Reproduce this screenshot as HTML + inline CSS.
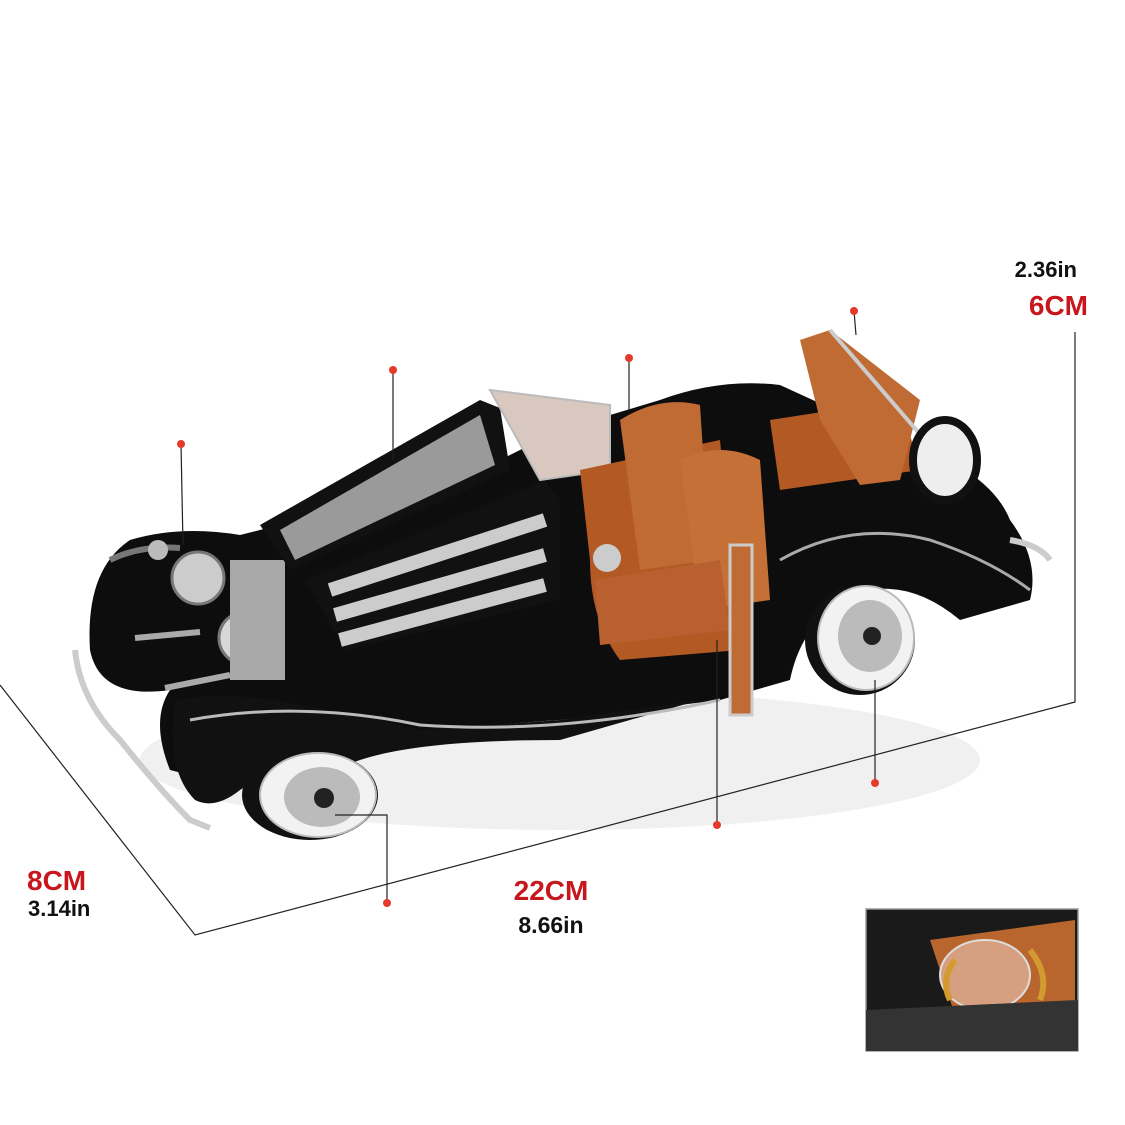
<!DOCTYPE html>
<html><head><meta charset="utf-8"><style>
html,body{margin:0;padding:0;background:#fff;}
svg{display:block}
text{font-family:"Liberation Sans",sans-serif;font-weight:bold}
</style></head><body>
<svg width="1125" height="1125" viewBox="0 0 1125 1125" xmlns="http://www.w3.org/2000/svg">
<rect width="1125" height="1125" fill="#fff"/>
<ellipse cx="560" cy="760" rx="420" ry="70" fill="#f0f0f0"/>
<g stroke="#222" stroke-width="1.2" fill="none">
<polyline points="0,685 195,935 1075,702 1075,332"/>
</g>
<path d="M660,400 Q720,378 780,385 L900,440 Q990,470 1010,520 Q1040,560 1030,600 L960,620 Q900,570 840,600 Q800,630 790,680 L720,700 L560,720 Q400,730 330,760 Q260,740 210,780 L170,770 Q150,720 170,690 Q100,700 90,650 Q85,570 130,540 Q180,525 240,535 L300,520 L480,470 L560,430 Z" fill="#0d0d0d"/>
<path d="M175,700 Q230,690 300,705 Q360,715 420,730 L560,720 L700,700 L560,740 Q420,740 360,760 Q330,770 310,790 Q270,770 240,790 Q215,810 195,800 Q165,770 175,700 Z" fill="#111"/>
<path d="M190,720 Q300,700 420,725 Q560,735 720,700" stroke="#bbb" stroke-width="3" fill="none"/>
<path d="M780,560 Q850,520 930,540 Q990,560 1030,590" stroke="#aaa" stroke-width="3" fill="none"/>
<path d="M110,560 Q140,545 180,548" stroke="#777" stroke-width="6" fill="none"/>
<path d="M75,650 Q80,700 120,740 Q160,790 190,820 L210,828" stroke="#ccc" stroke-width="6" fill="none"/>
<path d="M1010,540 Q1040,545 1050,560" stroke="#ccc" stroke-width="6" fill="none"/>
<circle cx="198" cy="578" r="26" fill="#ccc" stroke="#777" stroke-width="3"/>
<circle cx="245" cy="638" r="26" fill="#d8d8d8" stroke="#777" stroke-width="3"/>
<rect x="230" y="560" width="55" height="120" fill="#a8a8a8"/>
<circle cx="158" cy="550" r="10" fill="#bbb"/>
<line x1="135" y1="638" x2="200" y2="632" stroke="#aaa" stroke-width="6"/>
<line x1="165" y1="688" x2="230" y2="675" stroke="#aaa" stroke-width="6"/>
<path d="M260,525 L480,400 L500,408 L510,470 L290,570 Z" fill="#111"/>
<path d="M280,530 L480,415 L495,465 L295,560 Z" fill="#9a9a9a"/>
<path d="M305,580 L545,480 L560,500 L560,600 L345,650 Z" fill="#111"/>
<g stroke="#ccc" stroke-width="14">
<line x1="330" y1="590" x2="545" y2="520"/>
<line x1="335" y1="615" x2="545" y2="555"/>
<line x1="340" y1="640" x2="545" y2="585"/>
</g>
<path d="M490,390 L610,405 L610,470 L540,480 Z" fill="#d8c8c0" stroke="#bbb" stroke-width="2"/>
<path d="M580,470 L720,440 L740,650 L620,660 Q590,620 590,560 Z" fill="#b35a24"/>
<path d="M620,420 Q660,395 700,405 L710,560 L640,570 Z" fill="#c06a34"/>
<path d="M680,460 Q720,440 760,460 L770,600 L700,610 Z" fill="#c47036"/>
<path d="M595,580 L720,560 L730,630 L600,645 Z" fill="#b86030"/>
<path d="M770,420 L900,400 L920,470 L780,490 Z" fill="#b35a24"/>
<path d="M800,340 L830,330 L920,400 L900,480 L860,485 L820,420 Z" fill="#c06a34"/>
<line x1="830" y1="330" x2="925" y2="440" stroke="#ccc" stroke-width="4"/>
<ellipse cx="945" cy="460" rx="32" ry="40" fill="#eee" stroke="#111" stroke-width="8"/>
<rect x="730" y="545" width="22" height="170" fill="#c06a34" stroke="#ccc" stroke-width="3"/>
<circle cx="607" cy="558" r="14" fill="#ccc"/>
<ellipse cx="310" cy="795" rx="68" ry="45" fill="#111"/>
<ellipse cx="318" cy="795" rx="58" ry="42" fill="#f2f2f2" stroke="#bbb" stroke-width="2"/>
<ellipse cx="322" cy="797" rx="38" ry="30" fill="#bbb"/>
<circle cx="324" cy="798" r="10" fill="#222"/>
<ellipse cx="860" cy="640" rx="55" ry="55" fill="#111"/>
<ellipse cx="866" cy="638" rx="48" ry="52" fill="#f2f2f2" stroke="#bbb" stroke-width="2"/>
<ellipse cx="870" cy="636" rx="32" ry="36" fill="#bbb"/>
<circle cx="872" cy="636" r="9" fill="#222"/>
<g stroke="#222" stroke-width="1.2" fill="none">
<line x1="181" y1="444" x2="183" y2="545"/>
<line x1="393" y1="370" x2="393" y2="460"/>
<line x1="629" y1="358" x2="629" y2="410"/>
<line x1="854" y1="311" x2="856" y2="335"/>
<line x1="875" y1="783" x2="875" y2="680"/>
<line x1="717" y1="825" x2="717" y2="640"/>
<polyline points="387,903 387,815 335,815"/>
</g>
<g fill="#e53a2a">
<circle cx="181" cy="444" r="4"/><circle cx="393" cy="370" r="4"/><circle cx="629" cy="358" r="4"/><circle cx="854" cy="311" r="4"/><circle cx="875" cy="783" r="4"/><circle cx="717" cy="825" r="4"/><circle cx="387" cy="903" r="4"/>
</g>
<text x="1077" y="277" font-size="22" text-anchor="end" fill="#111">2.36in</text>
<text x="1088" y="315" font-size="28" text-anchor="end" fill="#c8161d">6CM</text>
<text x="27" y="890" font-size="28" fill="#c8161d">8CM</text>
<text x="28" y="916" font-size="22" fill="#111">3.14in</text>
<text x="551" y="900" font-size="28" text-anchor="middle" fill="#c8161d">22CM</text>
<text x="551" y="933" font-size="23" text-anchor="middle" fill="#111">8.66in</text>
<rect x="866" y="909" width="212" height="142" fill="#1a1a1a" stroke="#999" stroke-width="1.5"/>
<path d="M930,940 L1075,920 L1075,1010 L960,1030 Z" fill="#b8652e"/>
<ellipse cx="985" cy="975" rx="45" ry="35" fill="#d6a080" stroke="#ddd" stroke-width="2"/>
<path d="M866,1010 L1078,1000 L1078,1051 L866,1051 Z" fill="#333"/>
<path d="M950,1000 Q940,980 955,960" stroke="#d49a30" stroke-width="6" fill="none"/>
<path d="M1030,950 Q1050,975 1040,1000" stroke="#d49a30" stroke-width="6" fill="none"/>
</svg>
</body></html>
